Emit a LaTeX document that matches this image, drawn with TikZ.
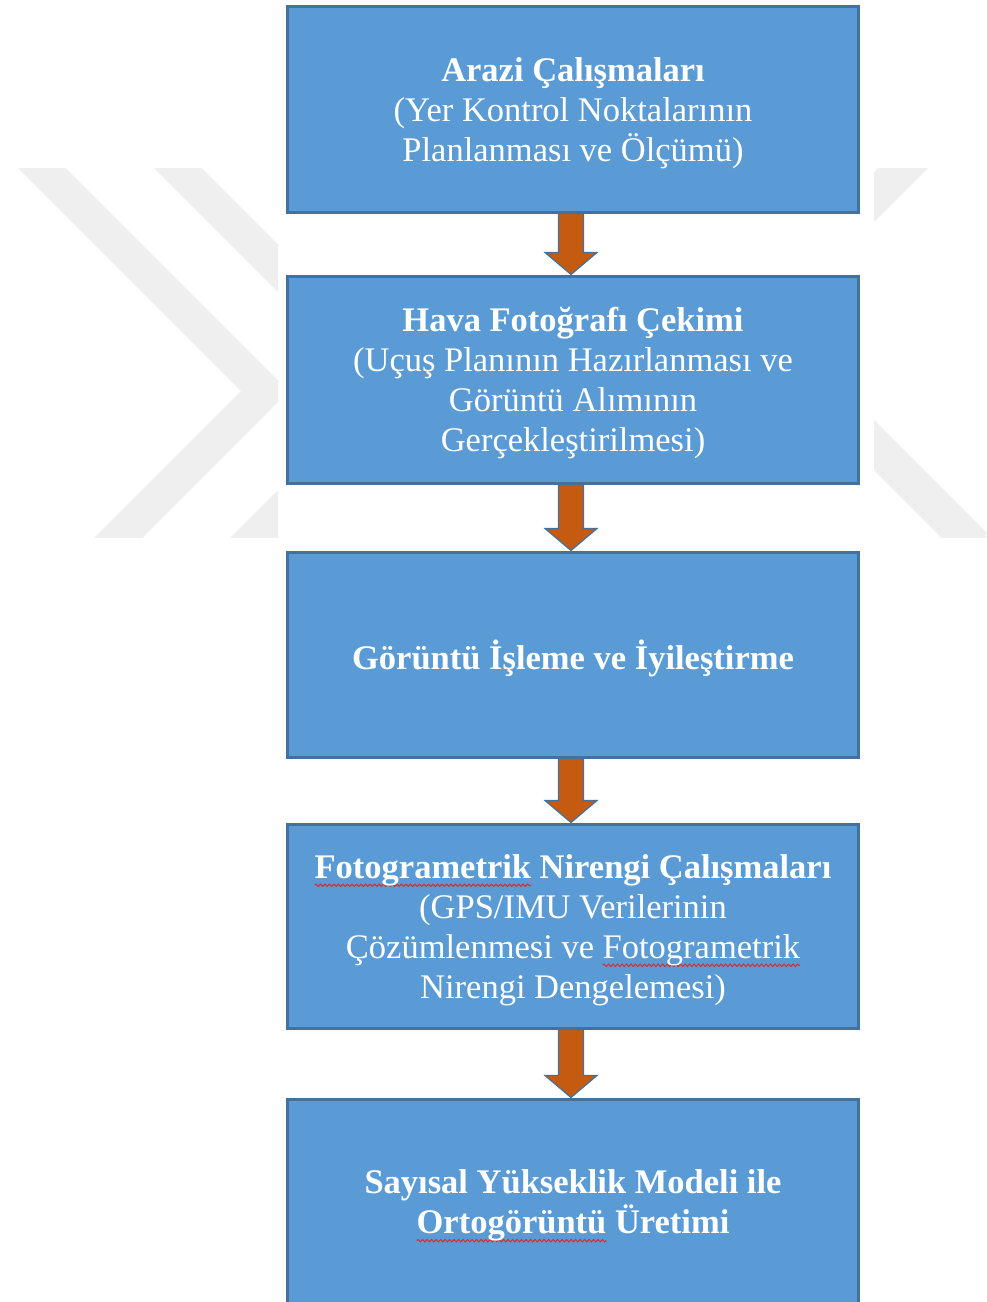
\documentclass[tikz,border=0pt]{standalone}
\usepackage{fontspec}
\setmainfont{Liberation Serif}
\usetikzlibrary{calc,decorations.pathmorphing}
\definecolor{boxfill}{HTML}{5B9BD5}
\definecolor{boxline}{HTML}{41719C}
\definecolor{arrowfill}{HTML}{C55A11}
\definecolor{wmgray}{HTML}{EFEFEF}
\definecolor{spellred}{HTML}{E02828}
\newsavebox\spellbox
\newcommand\spellwave[1]{\sbox\spellbox{#1}\tikz[overlay]{\draw[spellred, line width=1pt, decorate,
    decoration={snake,amplitude=1.2pt,segment length=4.5pt}]
    (0pt,-7pt) -- (\the\wd\spellbox,-7pt);}\usebox\spellbox}
\begin{document}
\begin{tikzpicture}[x=1pt,y=-1pt,
  stepbox/.style={draw=boxline, line width=3pt, fill=boxfill,
    minimum width=571pt, inner sep=0pt},
  steptext/.style={text=white, inner sep=0pt, align=center, yshift=-4pt,
    font=\fontsize{34.5}{40}\selectfont},
  flowarrow/.style={draw=boxline, line width=1.2pt, fill=arrowfill, line join=miter}]
\useasboundingbox (0,0) rectangle (986,1302);
\clip (0,0) rectangle (986,1302);
\fill[white] (0,0) rectangle (986,1302);
% watermark
\begin{scope}
\clip (0,168) rectangle (278,537);
\fill[wmgray] (241,391) -- (-159,-9) -- (-111,-9) -- (289,391) -- (-111,791) -- (-159,791) -- cycle;
\fill[wmgray] (377,391) -- (-23,-9) -- (25,-9) -- (425,391) -- (25,791) -- (-23,791) -- cycle;
\end{scope}
\begin{scope}
\clip (874,168) rectangle (986,537);
\fill[wmgray] (725,321) -- (1125,-79) -- (1175,-79) -- (775,321) -- (1175,721) -- (1125,721) -- cycle;
\end{scope}
% boxes
\node[stepbox, minimum height=206pt, label={[steptext]center:{\textbf{Arazi Çalışmaları}\\(Yer Kontrol Noktalarının\\Planlanması ve Ölçümü)}}] (b1) at (573,109) {};
\node[stepbox, minimum height=207pt, label={[steptext]center:{\textbf{Hava Fotoğrafı Çekimi}\\(Uçuş Planının Hazırlanması ve\\Görüntü Alımının\\Gerçekleştirilmesi)}}] (b2) at (573,379.5) {};
\node[stepbox, minimum height=205pt, label={[steptext]center:{\textbf{Görüntü İşleme ve İyileştirme}}}] (b3) at (573,654.5) {};
\node[stepbox, minimum height=204pt, label={[steptext]center:{\textbf{\spellwave{Fotogrametrik} Nirengi Çalışmaları}\\(GPS/IMU Verilerinin\\Çözümlenmesi ve \spellwave{Fotogrametrik}\\Nirengi Dengelemesi)}}] (b4) at (573,926) {};
\node[stepbox, minimum height=205pt, label={[steptext]center:{\textbf{Sayısal Yükseklik Modeli ile}\\\textbf{\spellwave{Ortogörüntü} Üretimi}}}] (b5) at (573,1201.5) {};
% arrows
\foreach \a/\b in {b1/b2,b2/b3,b3/b4,b4/b5}{
  \draw[flowarrow] let \p1=(\a.south), \p2=(\b.north) in
    (\x1-14.5pt,\y1) -- (\x1-14.5pt,\y2+22pt) -- (\x1-28pt,\y2+22pt) -- (\x1-2pt,\y2)
    -- (\x1+24pt,\y2+22pt) -- (\x1+10.5pt,\y2+22pt) -- (\x1+10.5pt,\y1) -- cycle;
}
\end{tikzpicture}
\end{document}
